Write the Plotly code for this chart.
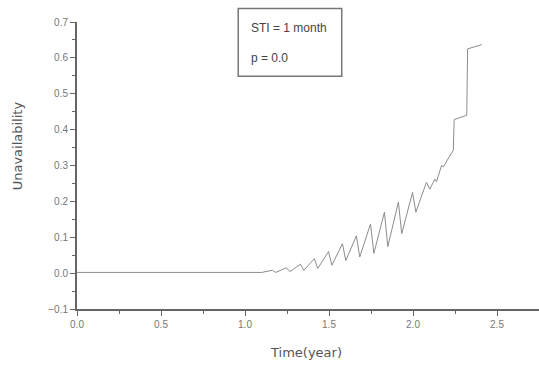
import plotly.graph_objects as go

# Time (years) and unavailability
time_year = [0.0, 0.5, 1.0, 1.10,
             1.163, 1.183, 1.247, 1.267, 1.33, 1.35, 1.413, 1.433,
             1.497, 1.517, 1.58, 1.60, 1.663, 1.683, 1.747, 1.767,
             1.83, 1.85, 1.913, 1.933, 1.997, 2.017, 2.08, 2.10,
             2.13, 2.14, 2.17, 2.18, 2.24, 2.245, 2.32, 2.325, 2.41]
unavailability = [0.002, 0.002, 0.002, 0.002,
                  0.008, 0.002, 0.015, 0.004, 0.025, 0.008, 0.040, 0.013,
                  0.060, 0.022, 0.082, 0.035, 0.104, 0.045, 0.137, 0.055,
                  0.170, 0.074, 0.198, 0.110, 0.225, 0.170, 0.253, 0.234,
                  0.262, 0.255, 0.300, 0.296, 0.343, 0.428, 0.440, 0.625, 0.637]

x_ticks = [0.0, 0.5, 1.0, 1.5, 2.0, 2.5]
y_ticks = [-0.1, 0.0, 0.1, 0.2, 0.3, 0.4, 0.5, 0.6, 0.7]
legend_lines = ["STI = 1 month", "p = 0.0"]
x_title = "Time(year)"
y_title = "Unavailability"

FONT = "Liberation Sans, Arial, sans-serif"
WIDE = "DejaVu Sans, Verdana, sans-serif"

fig = go.Figure()
fig.add_trace(go.Scatter(x=time_year, y=unavailability, mode="lines",
                         line=dict(color="#8c8c8c", width=1), showlegend=False))

axis_font = dict(family=FONT, size=10, color="#777777")
fig.update_xaxes(range=[0, 2.75], tickvals=x_ticks, tickformat=".1f",
                 showgrid=False, zeroline=False, showline=True, linecolor="#666666",
                 linewidth=2, ticks="outside", ticklen=5, tickcolor="#666666",
                 minor=dict(dtick=0.25, ticks="outside", ticklen=3, tickcolor="#666666"),
                 tickfont=axis_font)
fig.update_yaxes(range=[-0.1, 0.7], tickvals=y_ticks, tickformat=".1f",
                 showgrid=False, zeroline=False, showline=True, linecolor="#666666",
                 linewidth=2, ticks="outside", ticklen=5, tickcolor="#666666",
                 minor=dict(dtick=0.05, ticks="outside", ticklen=3, tickcolor="#666666"),
                 tickfont=axis_font)

# axis titles placed as annotations to match the reference positions
fig.add_annotation(xref="paper", yref="paper", x=0.496, y=-0.150, text=x_title,
                   showarrow=False, xanchor="center", yanchor="middle",
                   font=dict(family=WIDE, size=13, color="#555555"))
fig.add_annotation(xref="paper", yref="paper", x=-0.127, y=0.568, text=y_title,
                   showarrow=False, xanchor="center", yanchor="middle", textangle=-90,
                   font=dict(family=WIDE, size=13, color="#555555"))

fig.add_shape(type="rect", xref="paper", yref="paper",
              x0=0.349, x1=0.573, y0=0.811, y1=1.047,
              line=dict(color="#777777", width=1.5), fillcolor="white")
for i, txt in enumerate(legend_lines):
    fig.add_annotation(xref="paper", yref="paper", x=0.372, y=0.98 - i * 0.105,
                       text=txt, showarrow=False, xanchor="left", yanchor="middle",
                       font=dict(family=FONT, size=12, color="#444444"))

fig.update_layout(width=539, height=367, margin=dict(l=77, r=0, t=22, b=58),
                  plot_bgcolor="white", paper_bgcolor="white")
fig.write_html("out.html")
